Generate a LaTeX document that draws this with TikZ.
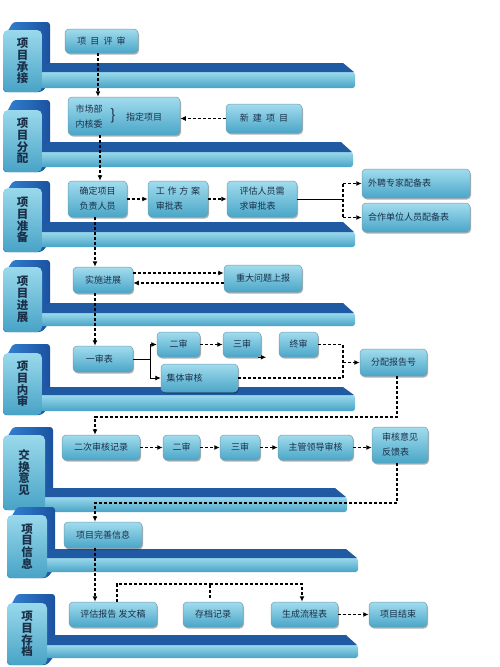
\documentclass[tikz,border=0pt]{standalone}
\usepackage{fontspec}
\setmainfont{Noto Sans CJK SC}
\usetikzlibrary{arrows.meta,calc,shadows}
\definecolor{dkA}{HTML}{3483D4}
\definecolor{dkB}{HTML}{1B52A0}
\definecolor{barT}{HTML}{1F5AA3}
\definecolor{ltT}{HTML}{9AD9EC}
\definecolor{ltB}{HTML}{48A3C6}
\definecolor{bxT}{HTML}{A2DCEE}
\definecolor{bxB}{HTML}{4AA6C8}
\definecolor{bxE}{HTML}{6F9FB2}
\definecolor{txt}{HTML}{1A3048}
\tikzset{
  extr/.style={left color=dkA,right color=dkB,rounded corners=3pt},
  facesh/.style={top color=ltT,bottom color=ltB,rounded corners=5pt},
  bardark/.style={fill=barT},
  barlight/.style={top color=ltT,bottom color=ltB,rounded corners=2.5pt},
  lbl/.style={align=center,font=\fontsize{11.5}{11.8}\selectfont\bfseries,text=txt,inner sep=0pt},
  box/.style={draw=bxE,line width=0.5pt,rounded corners=4pt,top color=bxT,bottom color=bxB,
    inner sep=0pt,align=center,font=\fontsize{9}{15}\selectfont,text=txt,
    drop shadow={shadow xshift=1pt,shadow yshift=-1.5pt,opacity=0.3,fill=black}},
  dl/.style={densely dashed,line width=1.1pt,black},
  sl/.style={line width=0.8pt,black},
  arr/.style={dl,-{Latex[length=5.5pt,width=5pt]}},
  sarr/.style={sl,-{Latex[length=5.5pt,width=5pt]}}
}
\newcommand\extr[5]{\path[extr] (#1+2,#4+6) -- (#1+10,#3) -- (#2+8,#3) -- (#2+8,#5-10) -- (#2,#5) -- (#1,#5) -- cycle;}
\newcommand\lanebar[5]{%
  \path[barlight] (#1,#4) -- (#2,#4) -- (#2,#5) -- (#1,#5) -- cycle;
  \path[bardark] (#1+7,#3) -- (#2-12,#3) -- (#2-1,#4) -- (#1,#4) -- cycle;}
\newcommand\face[6]{\path[facesh] (#1,#3) rectangle (#2,#4);
  \node[lbl] (#6) at ({(#1+#2)/2},{(#3+#4)/2}) {#5};}
\newcommand\bx[6]{\node[box,minimum width=#4pt,minimum height=#5pt] (#1) at (#2,#3) {#6};}
\begin{document}
\begin{tikzpicture}[x=1pt,y=-1pt]
\useasboundingbox (0,0) rectangle (499,667);
% lanes
\extr{3}{42}{22}{30}{92}\lanebar{40}{355}{63}{72}{88}\face{3}{42}{30}{92}{项\\目\\承\\接}{L1}
\extr{3}{42}{100}{110}{172}\lanebar{40}{353}{142}{152}{167}\face{3}{42}{110}{172}{项\\目\\分\\配}{L2}
\extr{3}{42}{181}{188}{252}\lanebar{40}{355}{222}{232}{247}\face{3}{42}{188}{252}{项\\目\\准\\备}{L3}
\extr{3}{42}{260}{267}{332}\lanebar{40}{355}{303}{313}{326}\face{3}{42}{267}{332}{项\\目\\进\\展}{L4}
\extr{3}{42}{344}{353}{415}\lanebar{40}{355}{387}{395}{411}\face{3}{42}{353}{415}{项\\目\\内\\审}{L5}
\extr{3}{45}{427}{435}{510}\lanebar{43}{347}{488}{497}{512}\face{3}{45}{435}{510}{交\\换\\意\\见}{L6}
\extr{7}{47}{507}{515}{578}\lanebar{45}{358}{549}{558}{572}\face{7}{47}{515}{578}{项\\目\\信\\息}{L7}
\extr{7}{47}{594}{603}{665}\lanebar{45}{358}{635}{645}{658}\face{7}{47}{603}{665}{项\\目\\存\\档}{L8}
% boxes
\bx{pj}{101.5}{41}{73}{24}{项\hspace{0.45em}目\hspace{0.45em}评\hspace{0.45em}审}
\bx{zd}{124}{116}{112}{38}{}
\node[font=\fontsize{9}{15}\selectfont,text=txt,align=center,inner sep=0pt] (zdl) at (89,117) {市场部\\内核委};
\node[font=\fontsize{15}{15}\selectfont,text=txt,inner sep=0pt] (zdb) at (113,116) {\}};
\node[font=\fontsize{9}{15}\selectfont,text=txt,inner sep=0pt] (zdr) at (144,117) {指定项目};
\bx{xj}{264}{118.5}{76}{29}{新\hspace{0.45em}建\hspace{0.45em}项\hspace{0.45em}目}
\bx{qd}{97.5}{199}{59}{36}{确定项目\\负责人员}
\node[box,minimum width=60pt,minimum height=36pt,align=left] (gz) at (178,199) {工\hspace{0.3em}作\hspace{0.3em}方\hspace{0.3em}案\\审批表\hspace{2.4em}};
\node[box,minimum width=70pt,minimum height=36pt,align=left] (pg) at (262,199) {评估人员需\\求审批表};
\node[box,minimum width=108pt,minimum height=29pt,text width=96pt,align=left] (wp) at (416,183.5) {外聘专家配备表};
\node[box,minimum width=108pt,minimum height=29pt,text width=96pt,align=left] (hz) at (416,217.5) {合作单位人员配备表};
\bx{ss}{103}{280}{60}{26}{实施进展}
\bx{zdw}{263}{278.5}{78}{27}{重大问题上报}
\bx{ys}{103}{359}{60}{26}{一审表\hspace{0.8em}}
\bx{es}{178.5}{344.5}{43}{25}{二审}
\bx{sa}{242}{344.5}{38}{25}{三审}
\bx{zs}{298.5}{344.5}{39}{25}{终审}
\node[box,minimum width=77pt,minimum height=28pt,text width=66pt,align=left] (jt) at (199.5,378) {集体审核};
\bx{fp}{393.5}{362.5}{67}{27}{分配报告号}
\bx{ec}{101}{447.5}{78}{25}{二次审核记录}
\bx{eb}{181.5}{447.5}{37}{25}{二审}
\bx{sb}{240}{447.5}{40}{25}{三审}
\bx{zg}{315.5}{447.5}{75}{25}{主管领导审核}
\node[box,minimum width=56pt,minimum height=36pt,align=left] (sh) at (400,445) {审核意见\\反馈表};
\bx{wsx}{103}{535}{78}{26}{项目完善信息}
\bx{pgb}{113}{614.5}{88}{25}{评估报告 发文稿}
\bx{cd}{213}{614.5}{60}{25}{存档记录}
\bx{sc}{304.5}{614.5}{67}{25}{生成流程表}
\bx{js}{398}{614.5}{58}{25}{项目结束}
% coordinates
\coordinate (b1) at (343,199);
\coordinate (b2) at (150,359);
\coordinate (b3) at (343,362.5);
\coordinate (t1) at (95,417);
\coordinate (t2) at (95,503);
\coordinate (t3) at (210,584);
% connectors
\draw[arr] ([xshift=-3.5pt]pj.south) -- ([xshift=-3.5pt]pj.south |- zd.north);
\draw[arr] (xj.west) -- (xj.west -| zd.east);
\draw[arr] ([xshift=2.5pt]qd.north |- zd.south) -- ([xshift=2.5pt]qd.north);
\draw[arr] (qd.east) -- (gz.west);
\draw[arr] (gz.east) -- (pg.west);
\draw[sl] (pg.east) -- (b1);
\draw[dl] (b1 |- wp.west) -- (b1 |- hz.west);
\draw[arr] (b1 |- wp.west) -- (wp.west);
\draw[arr] (b1 |- hz.west) -- (hz.west);
\draw[arr] ([xshift=-2.5pt]qd.south) -- ([xshift=-2.5pt]qd.south |- ss.north);
\draw[arr] ([yshift=7pt]ss.east) -- ([yshift=7pt]ss.east -| zdw.west);
\draw[arr] ([yshift=-3pt]ss.east -| zdw.west) -- ([yshift=-3pt]ss.east);
\draw[arr] ([xshift=-8pt]ss.south) -- ([xshift=-8pt]ss.south |- ys.north);
\draw[sl] (ys.east) -- (b2);
\draw[sarr] (b2) |- (es.west);
\draw[sarr] (b2) |- (jt.west);
\draw[arr] (es.east) -- (sa.west);
\draw[arr] ([xshift=-3pt]sa.south east) -- ++(8,0);
\draw[dl] (zs.east) -| (b3 |- jt.east) -- (jt.east);
\draw[arr] (b3) -- (fp.west);
\draw[arr] ([xshift=3.5pt]fp.south) |- (t1) -- (t1 |- ec.north);
\draw[arr] (ec.east) -- (eb.west);
\draw[arr] (eb.east) -- (sb.west);
\draw[arr] (sb.east) -- (zg.west);
\draw[arr] (zg.east) -- (zg.east -| sh.west);
\draw[arr] ([xshift=-3pt]sh.south) |- (t2) -- (t2 |- wsx.north);
\draw[arr] ([xshift=-8pt]wsx.south) -- ([xshift=-8pt]wsx.south |- pgb.north);
\draw[dl] ([xshift=4pt]pgb.north) |- (t3);
\draw[dl] ([xshift=-3pt,yshift=4pt]cd.north) -- (t3);
\draw[arr] (t3) -| ([xshift=-2.5pt]sc.north);
\draw[arr] (sc.east) -- (js.west);
\end{tikzpicture}
\end{document}
